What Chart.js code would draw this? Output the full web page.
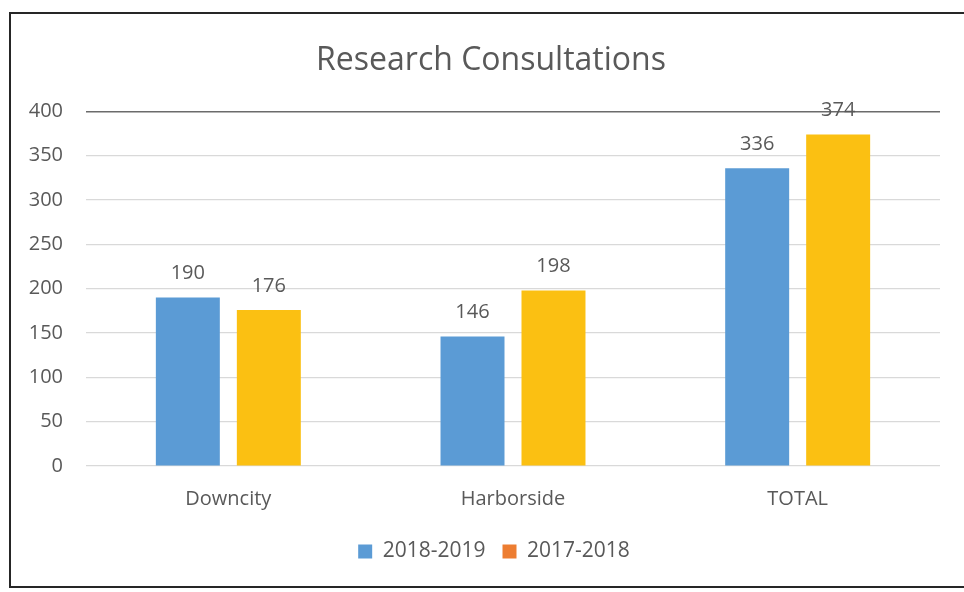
<!DOCTYPE html>
<html>
<head>
<meta charset="utf-8">
<script src="https://cdn.jsdelivr.net/npm/chart.js@4.4.1/dist/chart.umd.min.js"></script>
<style>
html,body{margin:0;padding:0;background:#fff;}
#wrap{width:964px;height:592px;position:relative;}
</style>
</head>
<body>
<div id="wrap"><canvas id="c" width="964" height="592"></canvas></div>
<script>
const categories = ["Downcity", "Harborside", "TOTAL"];
const series1Name = "2018-2019";
const series1Values = [190, 146, 336];
const series2Name = "2017-2018";
const series2Values = [176, 198, 374];
const yTicks = [0, 50, 100, 150, 200, 250, 300, 350, 400];
const titleText = "Research Consultations";

const FONT = "'Open Sans', 'DejaVu Sans', sans-serif";
const GREY = "#595959";

const framePlugin = {
  id: "frame",
  afterLayout(chart) {
    if (chart.legend) { chart.legend.left += 14; chart.legend.right += 14; }
    if (chart.titleBlock) { chart.titleBlock.left += 11; chart.titleBlock.right += 11; }
  },
  beforeDraw(chart) {
    const ctx = chart.ctx;
    ctx.save();
    ctx.fillStyle = "#fff";
    ctx.fillRect(0, 0, chart.width, chart.height);
    ctx.strokeStyle = "#262626";
    ctx.lineWidth = 2;
    ctx.strokeRect(10, 13, 970, 574);
    ctx.restore();
  }
};

const labelPlugin = {
  id: "barLabels",
  afterDatasetsDraw(chart) {
    const ctx = chart.ctx;
    ctx.save();
    ctx.fillStyle = GREY;
    ctx.font = "20px " + FONT;
    ctx.textAlign = "center";
    ctx.textBaseline = "middle";
    chart.data.datasets.forEach((ds, i) => {
      const meta = chart.getDatasetMeta(i);
      meta.data.forEach((bar, j) => {
        ctx.fillText(String(ds.data[j]), bar.x, bar.y - 24);
      });
    });
    ctx.restore();
  }
};

new Chart(document.getElementById("c"), {
  type: "bar",
  data: {
    labels: categories,
    datasets: [
      { label: series1Name, data: series1Values, backgroundColor: "#5B9BD5",
        categoryPercentage: 0.569, barPercentage: 0.79 },
      { label: series2Name, data: series2Values, backgroundColor: "#FBC012",
        categoryPercentage: 0.569, barPercentage: 0.79 }
    ]
  },
  options: {
    responsive: false,
    animation: false,
    devicePixelRatio: 1,
    layout: { padding: { left: 20, right: 24, top: 0, bottom: 20 } },
    plugins: {
      title: {
        display: true,
        text: titleText,
        color: GREY,
        font: { family: FONT, size: 32, weight: "normal" },
        padding: { top: 42, bottom: 31 }
      },
      legend: {
        display: true,
        position: "bottom",
        labels: {
          color: GREY,
          font: { family: FONT, size: 21 },
          boxWidth: 14,
          boxHeight: 14,
          padding: 17,
          generateLabels(chart) {
            const cols = ["#5B9BD5", "#ED7D31"];
            return chart.data.datasets.map((ds, i) => ({
              text: ds.label, fillStyle: cols[i], strokeStyle: cols[i],
              lineWidth: 0, hidden: false, datasetIndex: i, fontColor: GREY
            }));
          }
        }
      },
      tooltip: { enabled: false }
    },
    scales: {
      x: {
        grid: { display: false },
        border: { display: false },
        ticks: { color: GREY, font: { family: FONT, size: 20 }, padding: 13 }
      },
      y: {
        min: 0, max: 400,
        afterBuildTicks(scale) { scale.ticks = yTicks.map(v => ({ value: v })); },
        afterFit(scale) { scale.width = 66; },
        border: { display: false },
        grid: {
          drawTicks: false,
          color: ctx => ctx.tick && ctx.tick.value === 400 ? "#6b6b6b" : "#d9d9d9",
          lineWidth: ctx => ctx.tick && ctx.tick.value === 400 ? 1.6 : 1.2
        },
        ticks: { color: GREY, font: { family: FONT, size: 20 }, padding: 23 }
      }
    }
  },
  plugins: [framePlugin, labelPlugin]
});
</script>
</body>
</html>
